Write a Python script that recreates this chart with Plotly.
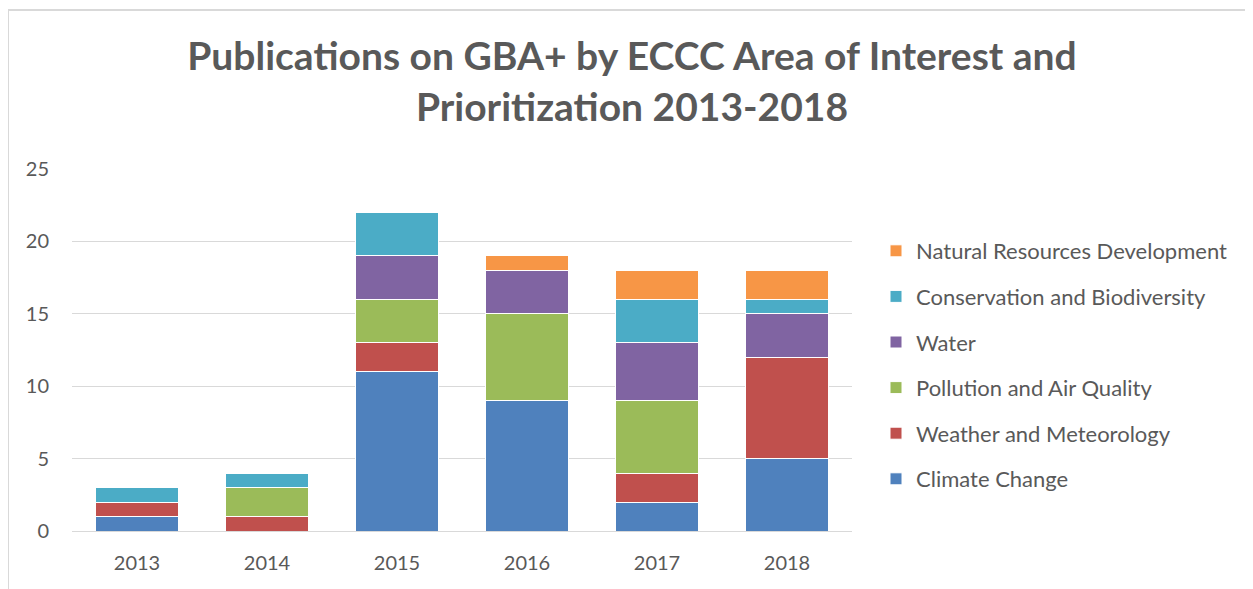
import plotly.graph_objects as go

years = ["2013", "2014", "2015", "2016", "2017", "2018"]
climate_change = [1, 0, 11, 9, 2, 5]
weather_meteorology = [1, 1, 2, 0, 2, 7]
pollution_air_quality = [0, 2, 3, 6, 5, 0]
water = [0, 0, 3, 3, 4, 3]
conservation_biodiversity = [1, 1, 3, 0, 3, 1]
natural_resources_dev = [0, 0, 0, 1, 2, 2]

series = [
    ("Climate Change", climate_change, "#4F81BD"),
    ("Weather and Meteorology", weather_meteorology, "#C0504D"),
    ("Pollution and Air Quality", pollution_air_quality, "#9BBB59"),
    ("Water", water, "#8064A2"),
    ("Conservation and Biodiversity", conservation_biodiversity, "#4BACC6"),
    ("Natural Resources Development", natural_resources_dev, "#F79646"),
]

FONT = "Lato"
GREY = "#595959"

fig = go.Figure()
n = len(series)
for i, (name, vals, color) in enumerate(series):
    fig.add_trace(go.Bar(
        x=years, y=vals, name=name, legendgroup=name,
        legendrank=1000 + (n - i),
        marker=dict(color=color, line=dict(color="white", width=1)),
    ))

# page body has an 8px margin; figure coordinates are offset accordingly
OFF = 8
W, H = 1253 - OFF, 589 - OFF
L, R, T, B = 72 - OFF, 852 - OFF, 169 - OFF, 531 - OFF

fig.update_layout(
    width=W, height=H,
    barmode="stack", bargap=0.36,
    plot_bgcolor="white", paper_bgcolor="white",
    margin=dict(l=L, r=W - R, t=T, b=H - B, autoexpand=False),
    font=dict(family=FONT, color=GREY, size=20),
    title=dict(
        text="<b>Publications on GBA+ by ECCC Area of Interest and<br>Prioritization 2013-2018</b>",
        x=(632 - OFF) / W, xref="container", xanchor="center",
        y=1 - (70 - OFF) / H, yref="container", yanchor="top",
        font=dict(family=FONT, size=39, color=GREY),
    ),
    xaxis=dict(showgrid=False, showline=False, ticks="", ticklabelstandoff=18,
               tickfont=dict(size=20, color=GREY)),
    yaxis=dict(range=[0, 25], dtick=5, showgrid=True, gridcolor="#D9D9D9", gridwidth=1.3,
               zeroline=True, zerolinecolor="#D9D9D9", zerolinewidth=1.3,
               showline=False, ticks="", ticklabelstandoff=22,
               tickfont=dict(size=20, color=GREY)),
    legend=dict(
        x=(876 - OFF - L) / (R - L), xanchor="left",
        y=(B - (230 - OFF)) / (B - T), yanchor="top",
        traceorder="grouped", tracegroupgap=14,
        font=dict(size=22, color=GREY),
        bgcolor="rgba(0,0,0,0)",
    ),
    shapes=[dict(
        type="rect", xref="paper", yref="paper",
        x0=(8 - OFF - L) / (R - L), x1=(1300 - L) / (R - L),
        y0=(B - 640) / (B - T), y1=(B - (10 - OFF)) / (B - T),
        line=dict(color="#D9D9D9", width=2), fillcolor="rgba(0,0,0,0)", layer="below",
    )],
)

fig.write_html("out.html")
